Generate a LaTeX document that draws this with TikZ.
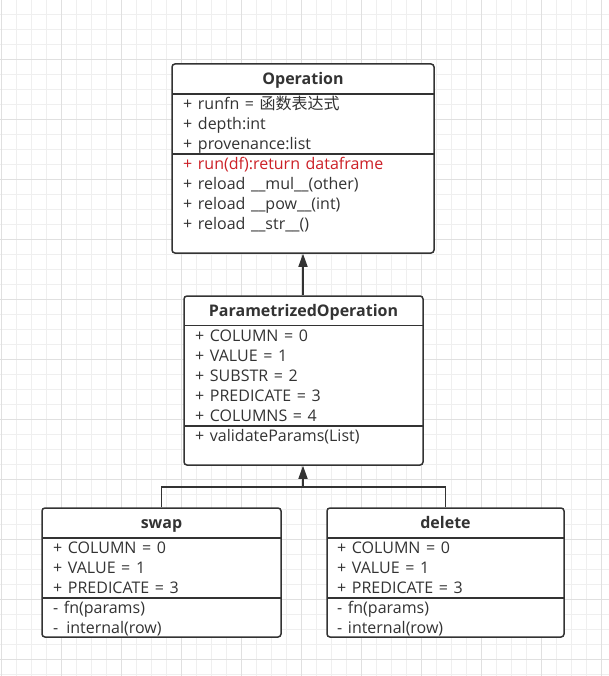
\documentclass[tikz,border=0pt]{standalone}
\usepackage{fontspec}
\setmainfont{Open Sans}
\newfontfamily\cjk{Noto Sans CJK SC}
\usetikzlibrary{arrows.meta}
\definecolor{ink}{RGB}{51,51,51}
\definecolor{redtxt}{RGB}{204,32,39}
\definecolor{gminor}{RGB}{239,239,239}
\definecolor{gmajor}{RGB}{224,224,224}
\newcommand\rowfont{\fontsize{16pt}{18pt}\selectfont\spaceskip=5.6pt\relax}
\newcommand\ttlfont{\fontsize{16pt}{18pt}\selectfont\bfseries}
\tikzset{
  classbox/.style={draw=ink, line width=1.5pt, rounded corners=3pt, fill=white, inner sep=0pt},
  sepline/.style={draw=ink, line width=1.5pt},
  ttl/.style={font=\ttlfont, text=ink, anchor=base, inner sep=0pt},
  row/.style={font=\rowfont, text=ink, anchor=base west, inner sep=0pt},
  inh/.style={draw=ink, line width=1.5pt, -{Triangle[length=13pt,width=9pt]}},
  plainline/.style={draw=ink, line width=1.5pt},
}
\begin{document}
\begin{tikzpicture}[x=1pt,y=-1pt]
\useasboundingbox (0,0) rectangle (609,676);
\fill[white] (0,0) rectangle (609,676);
\foreach \x in {1.5,16.5,...,609} \draw[gminor, line width=1pt] (\x,0) -- (\x,676);
\foreach \y in {14.5,29.5,...,676} \draw[gminor, line width=1pt] (0,\y) -- (609,\y);
\foreach \x in {1.5,61.5,...,609} \draw[gmajor, line width=1pt] (\x,0) -- (\x,676);
\foreach \y in {59.5,119.5,...,676} \draw[gmajor, line width=1pt] (0,\y) -- (609,\y);

% Operation
\node[classbox, minimum width=262pt, minimum height=189pt] (op) at (303,158.5) {};
\draw[sepline] (172,94) -- (434,94);
\draw[sepline] (172,154) -- (434,154);
\node[ttl] (opt) at (303,85) {\ttlfont Operation};
\node[row] (op1) at (183,109.5) {\rowfont + runfn = {\cjk 函数表达式}};
\node[row] (op2) at (183,129.5) {\rowfont + depth:int};
\node[row] (op3) at (183,149.5) {\rowfont + provenance:list};
\node[row, text=redtxt] (op4) at (183,169.5) {\rowfont + run(df):return dataframe};
\node[row] (op5) at (183,189.5) {\rowfont + reload \_\_mul\_\_(other)};
\node[row] (op6) at (183,209.5) {\rowfont + reload \_\_pow\_\_(int)};
\node[row] (op7) at (183,229.5) {\rowfont + reload \_\_str\_\_()};

% ParametrizedOperation
\node[classbox, minimum width=239pt, minimum height=169pt] (po) at (303.5,380.5) {};
\draw[sepline] (184,325.5) -- (423,325.5);
\draw[sepline] (184,426) -- (423,426);
\node[ttl] (pot) at (303.5,316.5) {\ttlfont ParametrizedOperation};
\node[row] (po1) at (195,341.5) {\rowfont + COLUMN = 0};
\node[row] (po2) at (195,361.5) {\rowfont + VALUE = 1};
\node[row] (po3) at (195,381.5) {\rowfont + SUBSTR = 2};
\node[row] (po4) at (195,401.5) {\rowfont + PREDICATE = 3};
\node[row] (po5) at (195,421.5) {\rowfont + COLUMNS = 4};
\node[row] (po6) at (195,441.5) {\rowfont + validateParams(List)};

% swap
\node[classbox, minimum width=239pt, minimum height=129pt] (swap) at (161.5,572.5) {};
\draw[sepline] (42,538) -- (281,538);
\draw[sepline] (42,598) -- (281,598);
\node[ttl] (swapt) at (161.5,528.5) {\ttlfont swap};
\node[row] (sw1) at (53,553.5) {\rowfont + COLUMN = 0};
\node[row] (sw2) at (53,573.5) {\rowfont + VALUE = 1};
\node[row] (sw3) at (53,593.5) {\rowfont + PREDICATE = 3};
\node[row] (sw4) at (53,613.5) {\rowfont - fn(params)};
\node[row] (sw5) at (53,633.5) {\rowfont -\hspace{8pt}internal(row)};

% delete
\node[classbox, minimum width=237pt, minimum height=129pt] (del) at (445.5,572.5) {};
\draw[sepline] (327,538) -- (564,538);
\draw[sepline] (327,598) -- (564,598);
\node[ttl] (delt) at (445.5,528.5) {\ttlfont delete};
\node[row] (de1) at (337,553.5) {\rowfont + COLUMN = 0};
\node[row] (de2) at (337,573.5) {\rowfont + VALUE = 1};
\node[row] (de3) at (337,593.5) {\rowfont + PREDICATE = 3};
\node[row] (de4) at (337,613.5) {\rowfont - fn(params)};
\node[row] (de5) at (337,633.5) {\rowfont - internal(row)};

% connectors
\draw[inh] (po.north -| op.south) -- (op.south);
\coordinate (join) at (303,487);
\draw[plainline] (swap.north) |- (join);
\draw[plainline] (del.north) |- (join);
\draw[inh] (join) -- (po.south -| join);
\end{tikzpicture}
\end{document}
